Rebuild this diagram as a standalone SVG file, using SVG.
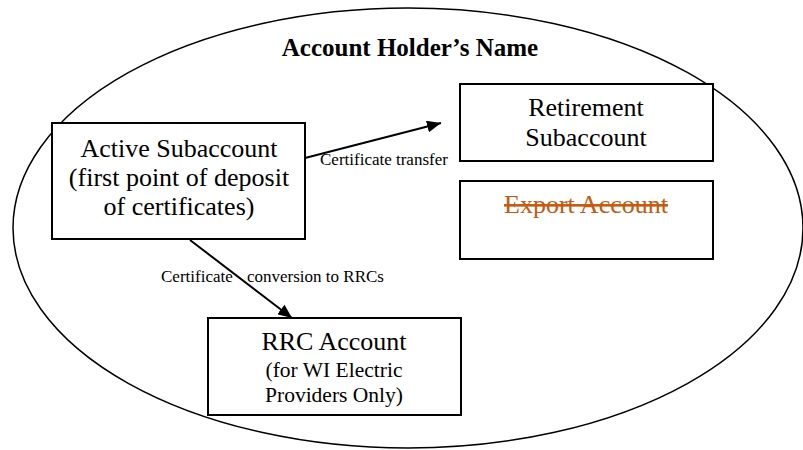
<svg xmlns="http://www.w3.org/2000/svg" width="803" height="450" viewBox="0 0 803 450">
<style>
.box{fill:#fff;stroke:#000;stroke-width:2}
.t{font-family:"Liberation Serif","Times New Roman",serif;fill:#000;text-anchor:middle}
.big{font-size:26px}
.mid{font-size:21.5px}
.lbl{font-family:"Liberation Serif","Times New Roman",serif;font-size:17px;fill:#000}
.conn{stroke:#000;stroke-width:2;fill:none}
</style>
<defs>
<marker id="ah" markerUnits="userSpaceOnUse" markerWidth="14" markerHeight="12" refX="14" refY="6" orient="auto">
<path d="M0,0 L14,6 L0,12 z" fill="#000"/>
</marker>
</defs>
<rect width="803" height="450" fill="#fff"/>
<g id="holder">
<ellipse cx="408" cy="228" rx="395" ry="220" fill="none" stroke="#000" stroke-width="1.5"/>
<text class="t" x="410" y="56" font-size="25" font-weight="bold">Account Holder’s Name</text>
</g>
<g id="active">
<rect class="box" x="52" y="123" width="253" height="116"/>
<text class="t big" x="179" y="157">Active Subaccount</text>
<text class="t big" x="179" y="186">(first point of deposit</text>
<text class="t big" x="179" y="215">of certificates)</text>
</g>
<g id="retirement">
<rect class="box" x="460" y="84" width="253" height="77"/>
<text class="t big" x="586" y="116">Retirement</text>
<text class="t big" x="586" y="146">Subaccount</text>
</g>
<g id="export">
<rect class="box" x="460" y="181" width="253" height="78"/>
<text class="t big" x="586" y="213" fill="#C55A11" style="fill:#C55A11" text-decoration="line-through">Export Account</text>
</g>
<g id="rrc">
<rect class="box" x="208" y="318" width="253" height="97"/>
<text class="t big" x="334" y="350">RRC Account</text>
<text class="t mid" x="334" y="377">(for WI Electric</text>
<text class="t mid" x="334" y="402">Providers Only)</text>
</g>
<g id="connectors">
<line class="conn" x1="305" y1="158" x2="441" y2="123" marker-end="url(#ah)"/>
<line class="conn" x1="190" y1="240" x2="292" y2="318" marker-end="url(#ah)"/>
<text class="lbl" x="320" y="165">Certificate transfer</text>
<text class="lbl" x="161" y="282">Certificate <tspan x="247">conversion to RRCs</tspan></text>
</g>
</svg>
